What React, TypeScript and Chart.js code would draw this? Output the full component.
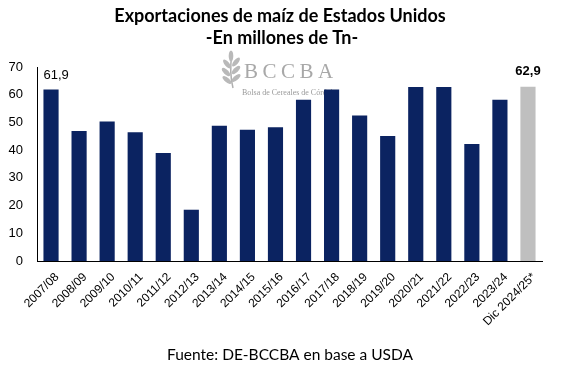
import React, { useEffect, useRef } from "react";
import { Chart, registerables } from "chart.js";

Chart.register(...registerables);

const categories = [
  "2007/08", "2008/09", "2009/10", "2010/11", "2011/12", "2012/13",
  "2013/14", "2014/15", "2015/16", "2016/17", "2017/18", "2018/19",
  "2019/20", "2020/21", "2021/22", "2022/23", "2023/24", "Dic 2024/25*",
];
const exportsMt = [
  61.9, 46.9, 50.3, 46.5, 39.0, 18.5, 48.8, 47.4, 48.3, 58.2, 61.9, 52.5,
  45.1, 62.8, 62.8, 42.2, 58.2, 62.9,
];
const labeledIdx = [0, 17];
const labelTexts = ["61,9", "62,9"];
const yTicks = [0, 10, 20, 30, 40, 50, 60, 70];
const titleLines = ["Exportaciones de maíz de Estados Unidos", "-En millones de Tn-"];
const footerText = "Fuente: DE-BCCBA en base a USDA";

const NAVY = "#0b2361";
const GREY = "#bfbfbf";

const watermark = {
  id: "watermark",
  beforeDatasetsDraw(chart: any) {
    const ctx = chart.ctx;
    ctx.save();
    ctx.strokeStyle = "#b0b0b0";
    ctx.fillStyle = "#b9b9b9";
    ctx.lineWidth = 1.5;
    ctx.beginPath();
    ctx.moveTo(233, 88);
    ctx.quadraticCurveTo(229, 72, 232, 54);
    ctx.stroke();
    const leaves = [
      [227, 80, -0.9], [236, 78, 0.9], [226, 72, -0.8], [236, 70, 0.8],
      [227, 64, -0.7], [236, 62, 0.7], [231, 56, 0],
    ];
    for (const [x, y, r] of leaves) {
      ctx.save();
      ctx.translate(x, y);
      ctx.rotate(r as number);
      ctx.beginPath();
      ctx.ellipse(0, 0, 2.3, 5.5, 0, 0, Math.PI * 2);
      ctx.fill();
      ctx.restore();
    }
    ctx.fillStyle = "#a8a8a8";
    ctx.font = "21px 'Liberation Serif', serif";
    ctx.textBaseline = "alphabetic";
    ctx.textAlign = "left";
    ["B", "C", "C", "B", "A"].forEach((l, i) => ctx.fillText(l, 244 + i * 18.5, 78));
    ctx.font = "8px 'Liberation Serif', serif";
    ctx.fillStyle = "#9a9a9a";
    ctx.fillText("Bolsa de Cereales de Córdoba", 242, 95);
    ctx.restore();
  },
};

const texts = {
  id: "texts",
  afterDraw(chart: any) {
    const ctx = chart.ctx;
    ctx.save();
    ctx.fillStyle = "#000";
    ctx.textAlign = "center";
    ctx.textBaseline = "middle";
    ctx.font = "bold 18px Lato, 'Open Sans', sans-serif";
    ctx.fillText(titleLines[0], 280, 16);
    ctx.fillText(titleLines[1], 282, 38);
    ctx.font = "15.5px Lato, 'Open Sans', sans-serif";
    ctx.fillText(footerText, 290, 355);
    ctx.restore();
  },
};

const valueLabels = {
  id: "valueLabels",
  afterDatasetsDraw(chart: any) {
    const ctx = chart.ctx;
    const meta = chart.getDatasetMeta(0);
    ctx.save();
    ctx.fillStyle = "#000";
    ctx.textBaseline = "middle";
    labeledIdx.forEach((idx, k) => {
      const el = meta.data[idx];
      if (k === 0) {
        ctx.font = "13px 'Liberation Sans', Arial, sans-serif";
        ctx.textAlign = "left";
        ctx.fillText(labelTexts[k], el.x - el.width / 2, el.y - 14);
      } else {
        ctx.font = "bold 13px 'Liberation Sans', Arial, sans-serif";
        ctx.textAlign = "center";
        ctx.fillText(labelTexts[k], el.x, el.y - 15);
      }
    });
    ctx.restore();
  },
};

export default function App() {
  const ref = useRef<HTMLCanvasElement | null>(null);
  useEffect(() => {
    document.body.style.margin = "0";
    const canvas = ref.current!;
    const chart = new Chart(canvas, {
      type: "bar",
      data: {
        labels: categories,
        datasets: [
          {
            data: exportsMt,
            backgroundColor: categories.map((_, i) =>
              i === categories.length - 1 ? GREY : NAVY
            ),
            categoryPercentage: 1,
            barPercentage: 0.54,
          },
        ],
      },
      options: {
        responsive: false,
        animation: false,
        devicePixelRatio: 1,
        layout: { padding: { left: 8, right: 28, top: 67, bottom: 0 } },
        plugins: {
          legend: { display: false },
          tooltip: { enabled: false },
          title: { display: false },
        },
        scales: {
          x: {
            afterFit: (axis: any) => {
              axis.height = 109;
            },
            grid: { display: false, drawTicks: false },
            border: { display: true, color: "#000", width: 1 },
            ticks: {
              color: "#000",
              minRotation: 45,
              maxRotation: 45,
              autoSkip: false,
              padding: 9,
              labelOffset: 6,
              font: { family: "'Liberation Sans', Arial, sans-serif", size: 12 },
            },
          },
          y: {
            min: 0,
            max: 70,
            afterBuildTicks: (axis: any) => {
              axis.ticks = yTicks.map((v) => ({ value: v }));
            },
            afterFit: (axis: any) => {
              axis.width = 29;
            },
            grid: { display: false, drawTicks: false },
            border: { display: true, color: "#000", width: 1 },
            ticks: {
              color: "#000",
              padding: 14,
              font: { family: "'Liberation Sans', Arial, sans-serif", size: 13 },
            },
          },
        },
      },
      plugins: [watermark, valueLabels, texts],
    });
    return () => chart.destroy();
  }, []);
  return <canvas ref={ref} width={570} height={370} style={{ display: "block" }} />;
}
